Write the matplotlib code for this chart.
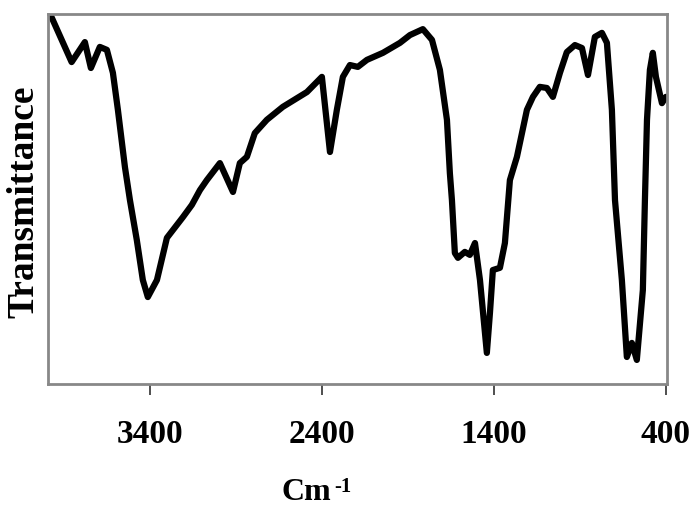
import numpy as np
import matplotlib
matplotlib.use('Agg')
import matplotlib.pyplot as plt

# IR spectrum (wavenumber in cm-1, transmittance in %)
wavenumber = [3980, 3855, 3778, 3743, 3691, 3650, 3615, 3586, 3545, 3516,
              3476, 3441, 3412, 3359, 3301, 3208, 3156, 3109, 3069, 2993,
              2917, 2877, 2836, 2790, 2720, 2627, 2487, 2400, 2353, 2313,
              2278, 2237, 2191, 2138, 2045, 1946, 1888, 1813, 1760, 1714,
              1673, 1656, 1644, 1627, 1609, 1569, 1540, 1510, 1481, 1441,
              1423, 1406, 1365, 1336, 1307, 1266, 1208, 1173, 1133, 1092,
              1057, 1016, 976, 929, 888, 853, 813, 772, 743, 714,
              696, 656, 627, 598, 569, 534, 522, 510, 493, 476,
              458, 423, 400]
transmittance = [100.0, 87.0, 92.4, 85.4, 91.1, 90.3, 84.1, 74.1, 58.6, 49.7,
                 38.9, 28.1, 23.5, 28.1, 39.5, 45.1, 48.4, 52.4, 55.1, 59.7,
                 51.9, 59.7, 61.4, 67.8, 71.4, 74.9, 78.9, 83.0, 62.7, 74.1,
                 83.0, 86.2, 85.7, 87.6, 89.5, 92.2, 94.3, 95.9, 93.0, 84.9,
                 71.4, 57.0, 49.7, 35.4, 34.1, 35.7, 34.9, 38.1, 28.1, 8.4,
                 19.2, 30.8, 31.4, 38.1, 55.1, 61.4, 74.1, 77.6, 80.3, 80.0,
                 77.6, 84.1, 89.7, 91.6, 90.8, 83.5, 93.8, 94.9, 92.2, 74.1,
                 49.7, 28.1, 7.3, 11.1, 6.5, 25.4, 49.7, 71.4, 84.9, 89.5,
                 83.0, 75.9, 77.6]
xticks = [3400, 2400, 1400, 400]

plt.rcParams['font.family'] = 'Liberation Serif'
plt.rcParams['font.weight'] = 'bold'

fig = plt.figure(figsize=(6.94, 5.12), dpi=100)
ax = fig.add_axes([0.069, 0.25, 0.892, 0.7227])

ax.plot(wavenumber, transmittance, color='black', lw=4.5,
        solid_joinstyle='round', solid_capstyle='round')

ax.set_xlim(3993, 394)
ax.set_ylim(0, 100)
ax.set_xticks(xticks)
ax.set_xticklabels([str(t) for t in xticks], fontsize=24, fontweight='bold')
ax.set_yticks([])
ax.tick_params(axis='x', direction='out', length=8, width=1.2,
               color='#303030', pad=17)
for s in ax.spines.values():
    s.set_color('#888888')
    s.set_linewidth(2)

fig.text(0.0346, 0.606, 'Transmittance', rotation=90, ha='center', va='center',
         fontsize=27, fontweight='bold')
fig.text(0.406, 0.0234, 'Cm', ha='left', va='baseline',
         fontsize=23, fontweight='bold')
fig.text(0.481, 0.040, '-1', ha='left', va='baseline',
         fontsize=15, fontweight='bold')

fig.savefig('out.png', dpi=100)
